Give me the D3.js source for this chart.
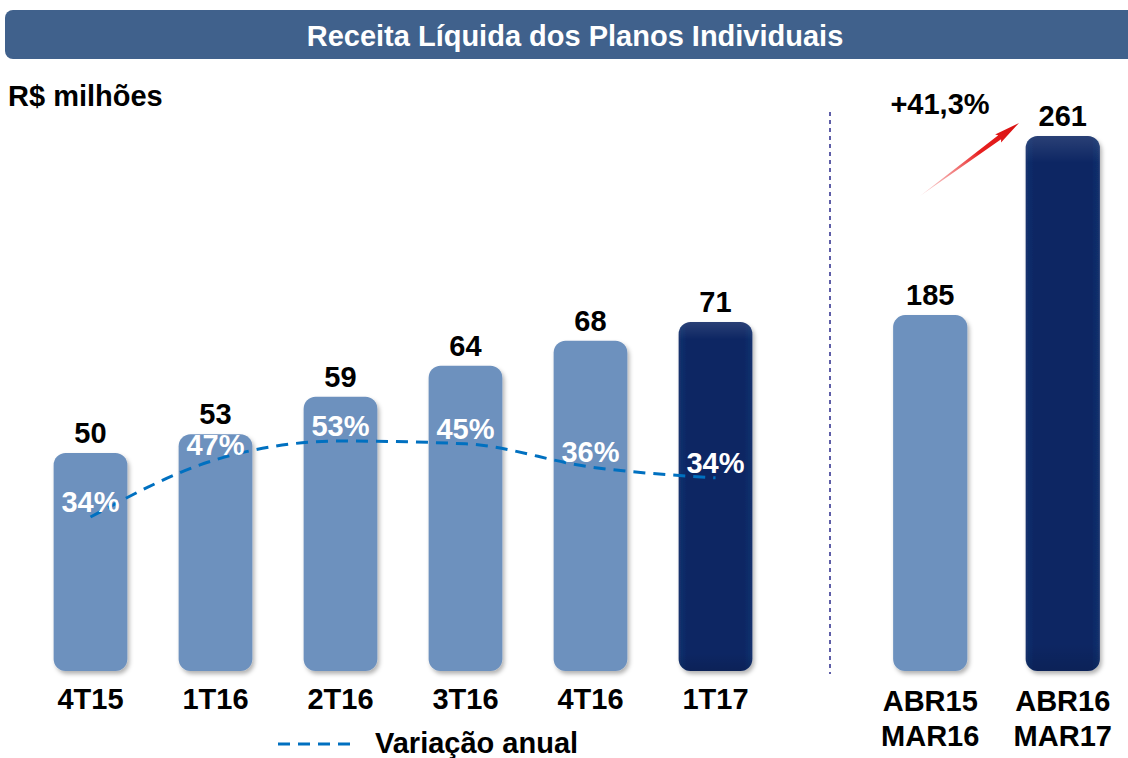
<!DOCTYPE html>
<html>
<head>
<meta charset="utf-8">
<script src="https://cdn.jsdelivr.net/npm/d3@7"></script>
<style>
  html, body { margin: 0; padding: 0; background: #fff; }
  svg { display: block; font-family: "Liberation Sans", Arial, sans-serif; }
</style>
</head>
<body>
<svg id="chart" width="1128" height="758"></svg>
<script>
// Trimestres
const trimestres = ['4T15', '1T16', '2T16', '3T16', '4T16', '1T17'];
const receitaTrim = [50, 53, 59, 64, 68, 71];
const variacao    = [34, 47, 53, 45, 36, 34];
// traçado da linha tal como aparece no gráfico (%)
const linhaVariacao = [33, 47.3, 52, 51.3, 45.5, 42.8];

// Acumulado 12 meses
const periodos = [['ABR15', 'MAR16'], ['ABR16', 'MAR17']];
const receitaAcum = [185, 261];
const crescimento = '+41,3%';

const svg = d3.select('#chart');
const W = 1128;
const LIGHT = '#6D91BE', DARK = '#0A2663';
const FS = 29;

// Defs: sombra + gradientes das barras escuras
const defs = svg.append('defs');
const sh = defs.append('filter').attr('id', 'shadow')
  .attr('x', '-20%').attr('y', '-10%').attr('width', '140%').attr('height', '125%');
sh.append('feDropShadow').attr('dx', 2).attr('dy', 3).attr('stdDeviation', 2)
  .attr('flood-color', '#000').attr('flood-opacity', 0.3);

const gd = defs.append('linearGradient').attr('id', 'dark-h').attr('x1', 0).attr('x2', 1).attr('y1', 0).attr('y2', 0);
gd.append('stop').attr('offset', '0%').attr('stop-color', '#14326E');
gd.append('stop').attr('offset', '12%').attr('stop-color', DARK);
gd.append('stop').attr('offset', '88%').attr('stop-color', DARK);
gd.append('stop').attr('offset', '100%').attr('stop-color', '#14326E');

const gt = defs.append('linearGradient').attr('id', 'dark-v').attr('x1', 0).attr('x2', 0).attr('y1', 0).attr('y2', 1);
gt.append('stop').attr('offset', '0%').attr('stop-color', '#fff').attr('stop-opacity', 0.12);
gt.append('stop').attr('offset', '5%').attr('stop-color', '#fff').attr('stop-opacity', 0);
gt.append('stop').attr('offset', '95%').attr('stop-color', '#000').attr('stop-opacity', 0);
gt.append('stop').attr('offset', '100%').attr('stop-color', '#000').attr('stop-opacity', 0.12);

const ga = defs.append('linearGradient').attr('id', 'arrow-grad').attr('x1', 0).attr('x2', 1);
ga.append('stop').attr('offset', '0%').attr('stop-color', '#F08080').attr('stop-opacity', 0.3);
ga.append('stop').attr('offset', '60%').attr('stop-color', '#E82020');
ga.append('stop').attr('offset', '100%').attr('stop-color', '#D81010');

// Barra de título
svg.append('rect')
  .attr('x', 5).attr('y', 10).attr('width', W + 20).attr('height', 49).attr('rx', 8)
  .attr('fill', '#40618C');
svg.append('text')
  .attr('x', 575).attr('y', 46).attr('text-anchor', 'middle')
  .attr('fill', '#fff').attr('font-size', FS).attr('font-weight', 700)
  .text('Receita Líquida dos Planos Individuais');

svg.append('text')
  .attr('x', 8).attr('y', 106)
  .attr('font-size', FS).attr('font-weight', 700).attr('fill', '#000')
  .text('R$ milhões');

// Escalas — painel trimestral
const baseY = 671;
const x = d3.scaleBand().domain(trimestres).range([28, 778]).paddingInner(0.41).paddingOuter(0.205);
const y = d3.scaleLinear().domain([15, 71]).range([baseY, 322]);
const yVar = d3.scaleLinear().domain([30, 55]).range([529, 429]);

const left = svg.append('g');
trimestres.forEach((t, i) => {
  const last = i === trimestres.length - 1;
  const bx = x(t), bw = x.bandwidth(), by = y(receitaTrim[i]);
  left.append('rect')
    .attr('x', bx).attr('y', by).attr('width', bw).attr('height', baseY - by).attr('rx', 12)
    .attr('fill', last ? 'url(#dark-h)' : LIGHT).attr('filter', 'url(#shadow)');
  if (last) {
    left.append('rect')
      .attr('x', bx).attr('y', by).attr('width', bw).attr('height', baseY - by).attr('rx', 12)
      .attr('fill', 'url(#dark-v)');
  }
  left.append('text')
    .attr('x', bx + bw / 2).attr('y', by - 10).attr('text-anchor', 'middle')
    .attr('font-size', FS).attr('font-weight', 700).attr('fill', '#000')
    .text(receitaTrim[i]);
  left.append('text')
    .attr('x', bx + bw / 2).attr('y', 709).attr('text-anchor', 'middle')
    .attr('font-size', FS).attr('font-weight', 700).attr('fill', '#000')
    .text(t);
});

// Linha de variação anual
const line = d3.line()
  .x((d, i) => x(trimestres[i]) + x.bandwidth() / 2)
  .y(d => yVar(d))
  .curve(d3.curveMonotoneX);
left.append('path').datum(linhaVariacao)
  .attr('d', line).attr('fill', 'none')
  .attr('stroke', '#0070C0').attr('stroke-width', 3).attr('stroke-dasharray', '12 8');

variacao.forEach((v, i) => {
  left.append('text')
    .attr('x', x(trimestres[i]) + x.bandwidth() / 2).attr('y', yVar(linhaVariacao[i]) - 5)
    .attr('text-anchor', 'middle')
    .attr('font-size', FS).attr('font-weight', 700).attr('fill', '#fff')
    .text(v + '%');
});

// Divisória pontilhada
svg.append('line')
  .attr('x1', 830).attr('x2', 830).attr('y1', 112).attr('y2', 674)
  .attr('stroke', '#2B2B8C').attr('stroke-width', 1.5).attr('stroke-dasharray', '4 4');

// Painel acumulado
const xr = d3.scaleBand().domain(receitaAcum.map((d, i) => i)).range([860, 1133]).paddingInner(0.44).paddingOuter(0.25);
const yr = d3.scaleLinear().domain([34, 261]).range([baseY, 136]);

const right = svg.append('g');
receitaAcum.forEach((v, i) => {
  const dark = i === 1;
  const bx = xr(i), bw = xr.bandwidth(), by = yr(v);
  right.append('rect')
    .attr('x', bx).attr('y', by).attr('width', bw).attr('height', baseY - by).attr('rx', 12)
    .attr('fill', dark ? 'url(#dark-h)' : LIGHT).attr('filter', 'url(#shadow)');
  if (dark) {
    right.append('rect')
      .attr('x', bx).attr('y', by).attr('width', bw).attr('height', baseY - by).attr('rx', 12)
      .attr('fill', 'url(#dark-v)');
  }
  right.append('text')
    .attr('x', bx + bw / 2).attr('y', by - 10).attr('text-anchor', 'middle')
    .attr('font-size', FS).attr('font-weight', 700).attr('fill', '#000')
    .text(v);
  periodos[i].forEach((p, j) => {
    right.append('text')
      .attr('x', bx + bw / 2).attr('y', 711 + j * 35).attr('text-anchor', 'middle')
      .attr('font-size', FS).attr('font-weight', 700).attr('fill', '#000')
      .text(p);
  });
});

// Seta de crescimento
const ax0 = 920, ay0 = 196, ax1 = 1019, ay1 = 123;
const L = Math.hypot(ax1 - ax0, ay1 - ay0);
const ang = Math.atan2(ay1 - ay0, ax1 - ax0) * 180 / Math.PI;
svg.append('path')
  .attr('transform', `translate(${ax0},${ay0}) rotate(${ang})`)
  .attr('d', `M0,0 L${L - 24},-2.4 L${L - 26},-5 L${L},0 L${L - 26},5 L${L - 24},2.4 Z`)
  .attr('fill', 'url(#arrow-grad)');
svg.append('text')
  .attr('x', 940).attr('y', 114).attr('text-anchor', 'middle')
  .attr('font-size', FS).attr('font-weight', 700).attr('fill', '#000')
  .text(crescimento);

// Legenda
svg.append('line')
  .attr('x1', 278).attr('x2', 352).attr('y1', 744).attr('y2', 744)
  .attr('stroke', '#0070C0').attr('stroke-width', 3).attr('stroke-dasharray', '12 8');
svg.append('text')
  .attr('x', 375).attr('y', 753)
  .attr('font-size', FS).attr('font-weight', 700).attr('fill', '#000')
  .text('Variação anual');
</script>
</body>
</html>
